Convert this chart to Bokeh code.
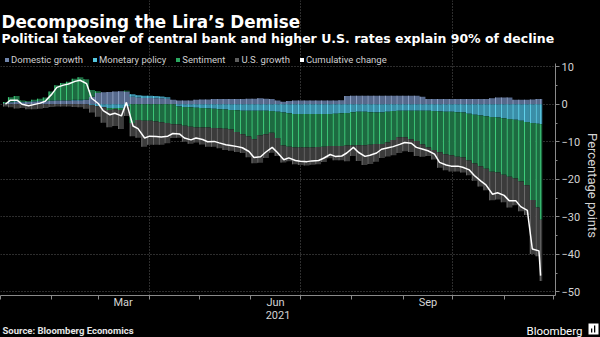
import math
import numpy as np
import pandas as pd
from bokeh.plotting import figure
from bokeh.layouts import column, row
from bokeh.models import (LinearAxis, FixedTicker, Grid, Legend, LegendItem, Label, Plot)
from bokeh.embed import file_html
from bokeh.resources import INLINE

# ---------------- data (percentage points) ----------------
mondays = pd.date_range("2021-01-04", "2021-11-22", freq="W-MON")
thursdays = pd.date_range("2021-01-07", "2021-11-18", freq="W-THU")
dates = mondays.union(thursdays).append(pd.DatetimeIndex(["2021-11-23"]))

domestic = [0.3, 0.5, 0.6, 0.5, 0.6, 0.7, 0.8, 0.8, 0.9, 1.0, 1.0, 1.0, 1.0, 1.0,
            1.2, 2.0, 3.0, 3.2, 3.3, 3.4, 3.5, 3.4, 2.0, 1.8, 1.7, 1.7, 1.6, 1.6,
            1.5, 1.2, 1.0, 1.0, 1.0, 1.2, 1.3, 1.3, 1.4, 1.4, 1.4, 1.4, 1.4, 1.4,
            1.5, 1.5, 1.6, 1.5, 1.4, 1.0, 0.7, 0.9, 1.0, 1.0, 1.0, 1.0, 1.0, 1.0,
            1.0, 1.0, 1.1, 2.2, 2.3, 2.3, 2.3, 2.3, 2.3, 2.3, 2.3, 2.3, 2.3, 2.3,
            2.3, 2.3, 2.0, 1.4, 1.4, 1.4, 1.4, 1.4, 1.4, 1.4, 1.4, 1.4, 1.4, 1.4,
            1.6, 1.8, 1.8, 1.8, 1.2, 1.2, 1.2, 1.3, 1.4, 1.4]
monetary = [0.0, 0.2, 0.2, 0.2, 0.1, 0.1, 0.1, 0.1, 0.1, 0.1, 0.1, 0.1, 0.2, 0.2,
            0.1, -0.2, -0.5, -0.8, -1.0, -1.0, -1.0, -0.6, 0.7, 0.6, 0.6, 0.6, 0.6, 0.5,
            0.4, 0.0, -0.6, -0.7, -0.8, -0.9, -1.0, -1.1, -1.2, -1.3, -1.4, -1.5, -1.6, -1.7,
            -1.7, -1.7, -1.7, -1.7, -1.8, -2.0, -2.2, -2.4, -2.6, -2.6, -2.6, -2.6, -2.6, -2.6,
            -2.6, -2.5, -2.4, -2.3, -2.1, -2.0, -2.0, -2.1, -2.2, -2.2, -2.0, -1.8, -1.7, -1.7,
            -1.7, -1.7, -1.7, -1.7, -1.8, -1.9, -2.0, -2.0, -2.1, -2.2, -2.5, -2.8, -3.0, -3.2,
            -3.4, -3.5, -3.7, -3.9, -4.1, -4.4, -4.7, -5.0, -5.2, -5.3]
sentiment = [0.3, 1.2, 1.4, 0.3, 0.2, 0.4, 0.6, 0.9, 2.4, 4.0, 4.6, 4.9, 5.6, 6.0,
             5.4, 1.8, 0.5, 0.0, -0.5, -0.3, -0.5, 0.2, -5.0, -4.2, -4.4, -4.4, -4.6, -4.8,
             -5.0, -5.3, -4.8, -5.0, -5.2, -5.3, -5.2, -5.1, -5.1, -5.1, -5.1, -5.2, -5.8, -6.3,
             -6.9, -7.6, -6.6, -6.3, -5.8, -7.0, -8.8, -8.9, -8.9, -8.9, -8.9, -8.9, -8.8, -8.7,
             -8.5, -8.6, -8.7, -8.7, -8.9, -8.9, -8.9, -8.7, -8.4, -8.4, -8.2, -7.7, -7.1, -7.1,
             -7.6, -8.1, -9.0, -9.8, -10.4, -10.9, -11.3, -11.6, -11.9, -12.0, -12.5, -13.0, -13.5, -14.0,
             -14.6, -14.7, -15.1, -15.4, -15.7, -16.2, -16.9, -20.5, -22.3, -25.5]
us_growth = [-0.6, -0.8, -1.1, -1.0, -1.3, -1.3, -1.2, -1.0, -0.7, -0.6, -0.6, -0.6, -0.7, -0.8,
             -1.2, -2.0, -2.8, -4.1, -4.6, -4.5, -5.1, -2.5, -3.5, -4.7, -6.9, -6.4, -6.2, -6.0,
             -5.4, -3.7, -3.5, -4.3, -4.5, -4.0, -4.5, -5.1, -5.0, -5.3, -5.7, -5.7, -5.3, -5.0,
             -5.5, -6.4, -7.3, -6.3, -5.3, -4.8, -4.5, -3.9, -4.5, -4.7, -4.8, -4.6, -4.6, -4.1,
             -3.3, -3.8, -3.8, -4.2, -2.8, -4.2, -5.3, -5.1, -4.7, -3.7, -3.7, -4.1, -4.2, -3.7,
             -3.4, -4.0, -3.3, -2.3, -2.5, -4.1, -4.3, -4.3, -3.9, -4.0, -3.9, -4.6, -5.4, -5.7,
             -7.6, -7.2, -7.3, -8.2, -7.1, -7.9, -7.9, -14.4, -13.0, -16.3]

series_names = ["Domestic growth", "Monetary policy", "Sentiment", "U.S. growth"]
legend_colors = ["#6f84ab", "#55c6de", "#2aa860", "#5e5e5e"]
fill_colors = ["#56698c", "#3a8ea8", "#1d6b41", "#3b3b3b"]
stripe_colors = ["#91a4c8", "#62d3ec", "#40cf7d", "#6c6c6c"]

y_ticks = [-50, -40, -30, -20, -10, 0, 10]
y_minor = [-45, -35, -25, -15, -5, 5]
month_labels = {"2021-03-16": "Mar", "2021-06-16": "Jun", "2021-09-16": "Sep"}
grid_dates = ["2021-04-01", "2021-07-01", "2021-10-01"]

# ---------------- derived positions ----------------
origin = pd.Timestamp("2021-01-01")
x = np.asarray((dates - origin).days, dtype=float)
mids = (x[1:] + x[:-1]) / 2
left = np.concatenate([[x[0] - 1.5], mids])
right = np.concatenate([mids, [x[-1] + 1.0]])

comps = [np.array(c, dtype=float) for c in (domestic, monetary, sentiment, us_growth)]
cum = np.sum(comps, axis=0)

Y_LO, Y_HI = -51, 11
TOTAL_H = 337
MAIN_H = 322
FOOT_H = TOTAL_H - MAIN_H
MAIN_W = 583
SIDE_W = 600 - MAIN_W

# opt out of frame alignment between the strips, when this Bokeh supports it
NOALIGN = {"frame_align": False} if "frame_align" in Plot.properties() else {}

# frame covers the header area too; data area spans Y_LO..Y_HI
p = figure(width=MAIN_W, height=MAIN_H, x_range=(0, 335), y_range=(Y_LO, 27.67),
           output_backend="svg", toolbar_location=None,
           x_axis_type=None, y_axis_type=None,
           background_fill_color="black", border_fill_color="black",
           outline_line_color=None,
           min_border_left=0, min_border_right=22, min_border_top=0, min_border_bottom=27)

FONT = "Roboto"
AX = "#8a8a8a"
TXT = "#d4d4d4"

month_starts = [int((d - origin).days) for d in pd.date_range("2021-01-01", "2021-12-01", freq="MS")]
mid_ticks = [int((pd.Timestamp(k) - origin).days) for k in month_labels]
xaxis = LinearAxis(ticker=FixedTicker(ticks=mid_ticks, minor_ticks=month_starts),
                   major_label_overrides={t: lab for t, lab in zip(mid_ticks, month_labels.values())},
                   axis_label="2021",
                   major_tick_out=0, major_tick_in=0, minor_tick_out=4, minor_tick_in=0,
                   axis_line_color=AX, minor_tick_line_color=AX,
                   major_label_text_color=TXT, major_label_text_font_size="11px",
                   major_label_text_font=FONT, major_label_standoff=-4,
                   axis_label_text_color=TXT, axis_label_text_font_size="11px",
                   axis_label_text_font=FONT, axis_label_text_font_style="normal",
                   axis_label_standoff=-1)
p.add_layout(xaxis, "below")

yaxis = LinearAxis(ticker=FixedTicker(ticks=y_ticks, minor_ticks=y_minor),
                   bounds=(Y_LO, Y_HI),
                   major_tick_out=4, major_tick_in=0, minor_tick_out=2, minor_tick_in=0,
                   axis_line_color=AX, major_tick_line_color=AX, minor_tick_line_color=AX,
                   major_label_text_color=TXT, major_label_text_font_size="11px",
                   major_label_text_font=FONT, major_label_standoff=2)
p.add_layout(yaxis, "right")

p.add_layout(Grid(dimension=1, ticker=FixedTicker(ticks=y_ticks),
                  grid_line_color="#5a5a5a", grid_line_dash="1 2"))
p.add_layout(Grid(dimension=0, bounds=(Y_LO, Y_HI),
                  ticker=FixedTicker(ticks=[int((pd.Timestamp(d) - origin).days) for d in grid_dates]),
                  grid_line_color="#5a5a5a", grid_line_dash="1 2"))

# stacked bars
pos_base = np.zeros_like(x)
neg_base = np.zeros_like(x)
for c, fc, sc in zip(comps, fill_colors, stripe_colors):
    bottom = np.where(c >= 0, pos_base, neg_base + c)
    top = np.where(c >= 0, pos_base + c, neg_base)
    pos_base = pos_base + np.clip(c, 0, None)
    neg_base = neg_base + np.clip(c, None, 0)
    p.quad(left=left, right=right, bottom=bottom, top=top,
           fill_color=fc, line_color=None)
    p.quad(left=left, right=left + 0.6, bottom=bottom, top=top,
           fill_color=sc, line_color=None)

p.line(x, cum, line_color="white", line_width=1.5)

# legend swatches (invisible dummy glyphs)
items = []
nan = [float("nan")]
for name, col in zip(series_names + ["Cumulative change"], legend_colors + ["#ffffff"]):
    r = p.quad(left=nan, right=nan, bottom=nan, top=nan, fill_color=col, line_color=None)
    items.append(LegendItem(label=name, renderers=[r]))
legend = Legend(items=items, orientation="horizontal", location=(4, 230),
                background_fill_alpha=0, border_line_alpha=0,
                label_text_color="#cfcfcf", label_text_font_size="9.5px",
                label_text_font=FONT,
                glyph_width=5, glyph_height=5, label_height=10, label_standoff=2,
                spacing=9, padding=0, margin=0)
p.add_layout(legend)

# header texts (screen units relative to the frame's bottom-left corner)
p.add_layout(Label(x=1, y=274, x_units="screen", y_units="screen",
                   text="Decomposing the Lira\u2019s Demise", text_color="white",
                   text_font="DejaVu Sans", text_font_size="16.8px", text_font_style="bold",
                   text_baseline="alphabetic"))
p.add_layout(Label(x=1, y=257, x_units="screen", y_units="screen",
                   text="Political takeover of central bank and higher U.S. rates explain 90% of decline",
                   text_color="white", text_font="DejaVu Sans", text_font_size="12.5px",
                   text_font_style="bold", text_baseline="alphabetic"))

# footer strip under the chart (its ranges are in pixels)
footer = figure(width=MAIN_W, height=FOOT_H, x_range=(0, MAIN_W), y_range=(0, FOOT_H),
                output_backend="svg", toolbar_location=None,
                x_axis_type=None, y_axis_type=None,
                background_fill_color="black", border_fill_color="black",
                outline_line_color=None,
                min_border_left=0, min_border_right=0, min_border_top=0, min_border_bottom=0,
                **NOALIGN)
footer.add_layout(Label(x=2, y=7, x_units="screen", y_units="screen",
                        text="Source: Bloomberg Economics", text_color="#e6e6e6",
                        text_font=FONT, text_font_size="9.5px", text_font_style="bold",
                        text_baseline="middle"))
footer.add_layout(Label(x=526, y=7, x_units="screen", y_units="screen",
                        text="Bloomberg", text_color="white", text_font=FONT,
                        text_font_size="11.5px", text_baseline="middle"))

# right strip: y-axis title and the terminal logo (ranges in pixels)
side = figure(width=SIDE_W, height=TOTAL_H, x_range=(0, SIDE_W), y_range=(0, TOTAL_H),
              output_backend="svg", toolbar_location=None,
              x_axis_type=None, y_axis_type=None,
              background_fill_color="black", border_fill_color="black",
              outline_line_color=None,
              min_border_left=0, min_border_right=0, min_border_top=0, min_border_bottom=0,
              **NOALIGN)
side.add_layout(Label(x=9, y=152, x_units="screen", y_units="screen",
                      text="Percentage points", angle=-math.pi / 2,
                      text_color=TXT, text_font=FONT, text_font_size="13px",
                      text_align="center", text_baseline="middle"))
side.quad(left=[5], right=[15], bottom=[3], top=[14], fill_color="white", line_color=None)
side.quad(left=[7.5, 10.5], right=[8.8, 11.8], bottom=[5, 5], top=[9, 12],
          fill_color="black", line_color=None)

layout = row(column(p, footer, spacing=0), side, spacing=0,
             styles={"background-color": "black"})
open("out.html", "w").write(file_html(layout, INLINE))
